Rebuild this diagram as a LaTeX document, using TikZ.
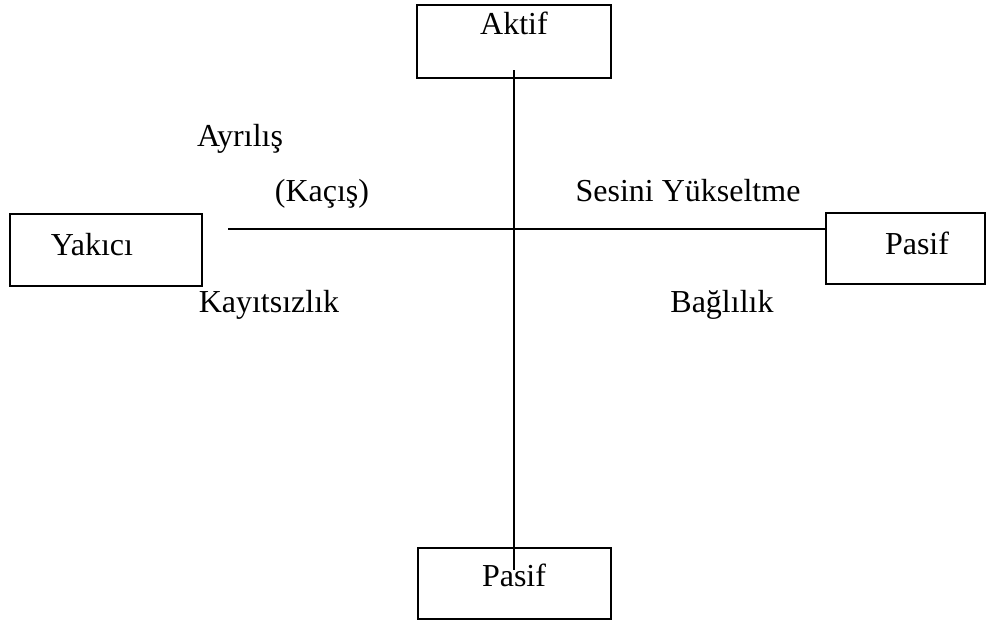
\documentclass[tikz,border=0pt]{standalone}
\usepackage{fontspec}
\setmainfont{Liberation Serif}

\tikzset{
    box/.style={draw, line width=0.9pt},
    word/.style={anchor=base, inner sep=0pt, font=\fontsize{16}{19}\selectfont},
}

\begin{document}
\begin{tikzpicture}[x=0.5pt, y=-0.5pt, line width=0.9pt]

    \useasboundingbox (0,0) rectangle (993,621);

    \node [box, minimum width=97pt, minimum height=36.5pt] (aktif) at (514, 41.5) {};
    \node [word] (aktifT) at (514, 34) {Aktif};

    \node [box, minimum width=96.5pt, minimum height=35.5pt] (pasifB) at (514.5, 583.5) {};
    \node [word] (pasifBT) at (514, 586) {Pasif};

    \node [box, minimum width=96pt, minimum height=36pt] (yakici) at (106, 250) {};
    \node [word] (yakiciT) at (92, 255) {Yakıcı};

    \node [box, minimum width=79.5pt, minimum height=35.5pt] (pasifR) at (905.5, 248.5) {};
    \node [word] (pasifRT) at (917, 254) {Pasif};

    \coordinate (vtop) at (514, 70);
    \coordinate (vbot) at (514, 570);
    \coordinate (hleft) at (228, 229);
    \draw (vtop) -- (vbot);
    \draw (hleft) -- (hleft -| pasifR.west);

    \node [word] (ayrilis) at (240, 146) {Ayrılış};
    \node [word] (kacis) at (322, 201) {(Kaçış)};
    \node [word] (sesini) at (688, 201) {Sesini Yükseltme};
    \node [word] (kayitsiz) at (269, 312) {Kayıtsızlık};
    \node [word] (baglilik) at (722, 312) {Bağlılık};

\end{tikzpicture}
\end{document}
